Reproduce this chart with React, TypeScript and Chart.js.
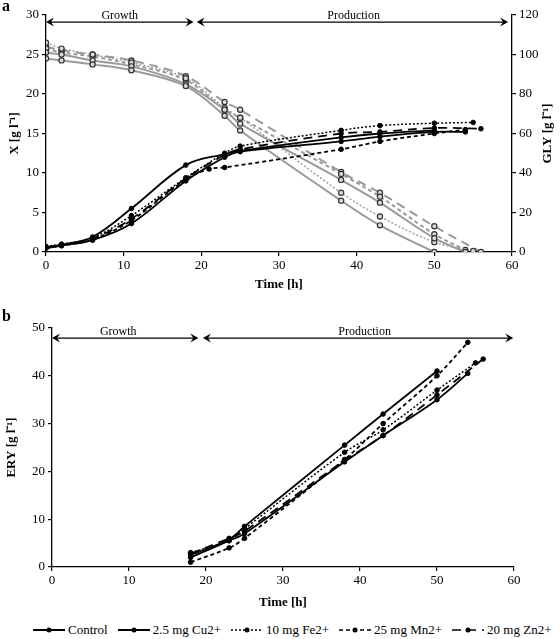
import React, { useEffect, useRef } from 'react';
import { Chart, registerables } from 'chart.js';

Chart.register(...registerables);

// ---------- data ----------
const seriesNames = ['Control', '2.5 mg Cu2+', '10 mg Fe2+', '25 mg Mn2+', '20 mg Zn2+'];
const seriesDash = [[], [], [2, 2], [4, 3], [9, 6]];

const xTickStep = 10;
const xMax = 60;
const biomassMax = 30;
const glyMax = 120;
const eryMax = 50;

// time points (h)
const tControl = [0, 2, 6, 11, 18, 23, 25, 38, 43, 50];
const tCu = [0, 2, 6, 11, 18, 23, 25, 38, 43, 50, 54];
const tFe = [0, 2, 6, 11, 18, 23, 25, 38, 43, 50, 55];
const tMn = [0, 2, 6, 11, 18, 23, 25, 38, 43, 50, 54];
const tMnBiomass = [0, 2, 6, 11, 18, 21, 23, 38, 43, 50, 54];
const tZn = [0, 2, 6, 11, 18, 23, 25, 38, 43, 50, 56];

// biomass X [g/l]
const xControl = [0.6, 0.9, 1.9, 5.5, 11.0, 12.4, 12.8, 14.5, 15.0, 15.4];
const xCu = [0.5, 0.8, 1.5, 3.6, 9.0, 12.0, 12.7, 14.0, 14.6, 15.2, 15.2];
const xFe = [0.7, 1.0, 1.8, 4.6, 9.4, 12.5, 13.4, 15.4, 16.0, 16.3, 16.4];
const xMn = [0.5, 0.8, 1.6, 4.0, 9.2, 10.5, 10.7, 13.0, 14.0, 15.0, 15.5];
const xZn = [0.6, 0.9, 1.7, 4.2, 9.3, 12.3, 13.0, 15.0, 15.2, 15.7, 15.6];

// glycerol GLY [g/l]
const glyControl = [98, 97, 95, 92, 84, 69, 61.5, 26, 13.5, 0];
const glyCu = [101, 100, 97, 94, 85, 72, 65, 36.5, 25, 7, 0];
const glyFe = [106, 103, 100, 96, 88, 73, 68, 30, 18, 5, 0.5];
const glyMn = [103, 101, 99, 95, 87, 72, 68, 39.5, 28, 9, 1];
const glyZn = [104, 102, 100, 97, 89, 76, 72, 40.5, 30, 13, 0];

// erythritol ERY [g/l]
const tEryControl = [18, 23, 25, 38, 43, 50];
const tEryCu = [18, 23, 25, 38, 43, 50, 54];
const tEryFe = [18, 23, 25, 38, 43, 50, 55];
const tEryMn = [18, 23, 25, 38, 43, 50, 54];
const tEryZn = [18, 23, 25, 38, 43, 50, 56];
const eryControl = [2.5, 5.8, 8.5, 25.5, 32, 41];
const eryCu = [2, 5.5, 7, 22, 27.5, 35, 40.5];
const eryFe = [3, 5.5, 8, 24, 28.7, 37, 42.7];
const eryMn = [1, 4, 6, 22.5, 30, 40, 47];
const eryZn = [2.8, 6, 7.5, 22.3, 27.5, 36, 43.5];

// phases
const growthSpan = [0, 19];
const productionSpanA = [19.4, 59.5];
const productionSpanB = [19.6, 59.9];

// ---------- helpers ----------
const SERIF = '"Liberation Serif", "Times New Roman", serif';
const pts = (t: number[], v: number[]) => t.map((x, i) => ({ x, y: v[i] }));

const blackDs = (name: string, idx: number, t: number[], v: number[], yAxisID = 'y') => ({
  label: name,
  data: pts(t, v),
  yAxisID,
  borderColor: '#000',
  borderWidth: idx === 2 ? 1.5 : 1.8,
  borderDash: seriesDash[idx],
  pointRadius: 2.3,
  pointBackgroundColor: '#000',
  pointBorderColor: '#000',
  pointBorderWidth: 1,
  tension: 0.35,
  fill: false,
});

const grayDs = (name: string, idx: number, t: number[], v: number[]) => ({
  label: name + ' GLY',
  data: pts(t, v),
  yAxisID: 'y1',
  borderColor: '#9a9a9a',
  borderWidth: idx === 2 ? 1.4 : 2,
  borderDash: seriesDash[idx],
  pointRadius: 2.6,
  pointBackgroundColor: '#d8d8d8',
  pointBorderColor: '#333',
  pointBorderWidth: 1.2,
  tension: 0.35,
  fill: false,
});

const drawHead = (ctx: CanvasRenderingContext2D, x: number, y: number, dir: number) => {
  // dir: -1 pointing left, +1 pointing right
  ctx.beginPath();
  ctx.moveTo(x, y);
  ctx.lineTo(x - dir * 8, y - 4.5);
  ctx.lineTo(x - dir * 5, y);
  ctx.lineTo(x - dir * 8, y + 4.5);
  ctx.closePath();
  ctx.fill();
};

const phasePlugin = {
  id: 'phases',
  afterDraw(chart: any, _args: any, opts: any) {
    const { ctx, scales } = chart;
    const xs = scales.x;
    const ys = scales.y;
    const py = ys.getPixelForValue(opts.y);
    ctx.save();
    ctx.strokeStyle = '#000';
    ctx.fillStyle = '#000';
    ctx.lineWidth = 1.3;
    const arrow = (span: number[]) => {
      const a = xs.getPixelForValue(span[0]);
      const b = xs.getPixelForValue(span[1]);
      ctx.beginPath();
      ctx.moveTo(a + 3, py);
      ctx.lineTo(b - 3, py);
      ctx.stroke();
      drawHead(ctx, a, py, -1);
      drawHead(ctx, b, py, 1);
    };
    arrow(opts.growth);
    arrow(opts.production);
    ctx.font = '12px ' + SERIF;
    ctx.textAlign = 'center';
    ctx.textBaseline = 'alphabetic';
    ctx.fillText('Growth', xs.getPixelForValue(opts.growthLabel), py - 3);
    ctx.fillText('Production', xs.getPixelForValue(opts.prodLabel), py - 3);
    if (opts.rightTitle) {
      const ca = chart.chartArea;
      ctx.translate(opts.rightTitleX, (ca.top + ca.bottom) / 2);
      ctx.rotate(-Math.PI / 2);
      ctx.font = 'bold 13px ' + SERIF;
      ctx.textBaseline = 'middle';
      ctx.fillText(opts.rightTitle, 0, 0);
    }
    ctx.restore();
  },
};

const tickFont = { family: SERIF, size: 13 };
const titleFont = { family: SERIF, size: 13, weight: 'bold' as const };
const axisGrid = { drawOnChartArea: false, tickLength: 4, color: '#000', lineWidth: 1.2 };
const axisBorder = { color: '#000', width: 1.3 };

function TopChart() {
  const ref = useRef<HTMLCanvasElement>(null);
  useEffect(() => {
    const chart = new Chart(ref.current as HTMLCanvasElement, {
      type: 'line',
      data: {
        datasets: [
          blackDs(seriesNames[0], 0, tControl, xControl),
          blackDs(seriesNames[1], 1, tCu, xCu),
          blackDs(seriesNames[2], 2, tFe, xFe),
          blackDs(seriesNames[3], 3, tMnBiomass, xMn),
          blackDs(seriesNames[4], 4, tZn, xZn),
          grayDs(seriesNames[0], 0, tControl, glyControl),
          grayDs(seriesNames[1], 1, tCu, glyCu),
          grayDs(seriesNames[2], 2, tFe, glyFe),
          grayDs(seriesNames[3], 3, tMn, glyMn),
          grayDs(seriesNames[4], 4, tZn, glyZn),
        ] as any,
      },
      options: {
        animation: false,
        responsive: false,
        layout: { padding: { top: 15, left: 0, right: 0, bottom: 0 } },
        plugins: {
          legend: { display: false },
          tooltip: { enabled: false },
          phases: {
            y: 29.1,
            growth: growthSpan,
            production: productionSpanA,
            growthLabel: 9.5,
            prodLabel: 39.6,
            rightTitle: 'GLY [g l⁻¹]',
            rightTitleX: 548,
          },
        } as any,
        scales: {
          x: {
            type: 'linear',
            min: 0,
            max: xMax,
            ticks: { stepSize: xTickStep, font: tickFont, color: '#000', padding: 2 },
            grid: axisGrid,
            border: axisBorder,
            title: { display: true, text: 'Time [h]', font: titleFont, color: '#000', padding: { top: 0, bottom: 8 } },
            afterFit: (s: any) => { s.height = 48; },
          },
          y: {
            position: 'left',
            min: 0,
            max: biomassMax,
            ticks: { stepSize: 5, font: tickFont, color: '#000', padding: 3 },
            grid: axisGrid,
            border: axisBorder,
            title: { display: true, text: 'X [g l⁻¹]', font: titleFont, color: '#000', padding: { top: 7, bottom: 0 } },
            afterFit: (s: any) => { s.width = 46; },
          },
          y1: {
            position: 'right',
            min: 0,
            max: glyMax,
            ticks: { stepSize: 20, font: tickFont, color: '#000', padding: 3 },
            grid: axisGrid,
            border: axisBorder,
            afterFit: (s: any) => { s.width = 48; },
          },
        } as any,
      },
      plugins: [phasePlugin],
    });
    return () => chart.destroy();
  }, []);
  return <canvas ref={ref} width={560} height={300} style={{ display: 'block', width: 560, height: 300 }} />;
}

function BottomChart() {
  const ref = useRef<HTMLCanvasElement>(null);
  useEffect(() => {
    const chart = new Chart(ref.current as HTMLCanvasElement, {
      type: 'line',
      data: {
        datasets: [
          blackDs(seriesNames[0], 0, tEryControl, eryControl),
          blackDs(seriesNames[1], 1, tEryCu, eryCu),
          blackDs(seriesNames[2], 2, tEryFe, eryFe),
          blackDs(seriesNames[3], 3, tEryMn, eryMn),
          blackDs(seriesNames[4], 4, tEryZn, eryZn),
        ] as any,
      },
      options: {
        animation: false,
        responsive: false,
        layout: { padding: { top: 28, left: 0, right: 46, bottom: 0 } },
        plugins: {
          legend: { display: false },
          tooltip: { enabled: false },
          phases: {
            y: 47.9,
            growth: growthSpan,
            production: productionSpanB,
            growthLabel: 8.6,
            prodLabel: 40.6,
          },
        } as any,
        scales: {
          x: {
            type: 'linear',
            min: 0,
            max: xMax,
            ticks: { stepSize: xTickStep, font: tickFont, color: '#000', padding: 2 },
            grid: axisGrid,
            border: axisBorder,
            title: { display: true, text: 'Time [h]', font: titleFont, color: '#000', padding: { top: 0, bottom: 5 } },
            afterFit: (s: any) => { s.height = 48; },
          },
          y: {
            position: 'left',
            min: 0,
            max: eryMax,
            ticks: { stepSize: 10, font: tickFont, color: '#000', padding: 3 },
            grid: axisGrid,
            border: axisBorder,
            title: { display: true, text: 'ERY [g l⁻¹]', font: titleFont, color: '#000', padding: { top: 4, bottom: 0 } },
            afterFit: (s: any) => { s.width = 52; },
          },
        } as any,
      },
      plugins: [phasePlugin],
    });
    return () => chart.destroy();
  }, []);
  return <canvas ref={ref} width={560} height={315} style={{ display: 'block', width: 560, height: 315 }} />;
}

function LegendSample({ dash }: { dash: number[] }) {
  return (
    <svg width={32} height={10} style={{ display: 'block' }}>
      <line x1={0} y1={5} x2={32} y2={5} stroke="#000" strokeWidth={dash.length ? 1.6 : 2} strokeDasharray={dash.length ? dash.join(' ') : undefined} />
      <circle cx={16} cy={5} r={2.5} fill="#000" />
    </svg>
  );
}

export default function App() {
  return (
    <div style={{ position: 'absolute', left: 0, top: 0, width: 560, height: 639, background: '#fff', fontFamily: SERIF }}>
      <TopChart />
      <BottomChart />
      <div style={{ position: 'absolute', left: 2, top: -3, fontWeight: 'bold', fontSize: 16, fontFamily: SERIF }}>a</div>
      <div style={{ position: 'absolute', left: 2, top: 307, fontWeight: 'bold', fontSize: 16, fontFamily: SERIF }}>b</div>
      <div style={{ position: 'absolute', left: 33, top: 622, display: 'flex', alignItems: 'center', fontSize: 13, fontFamily: SERIF, whiteSpace: 'nowrap' }}>
        {seriesNames.map((n, i) => (
          <div key={n} style={{ display: 'flex', alignItems: 'center', marginRight: 10 }}>
            <LegendSample dash={seriesDash[i]} />
            <span style={{ marginLeft: 3 }}>{n}</span>
          </div>
        ))}
      </div>
    </div>
  );
}
